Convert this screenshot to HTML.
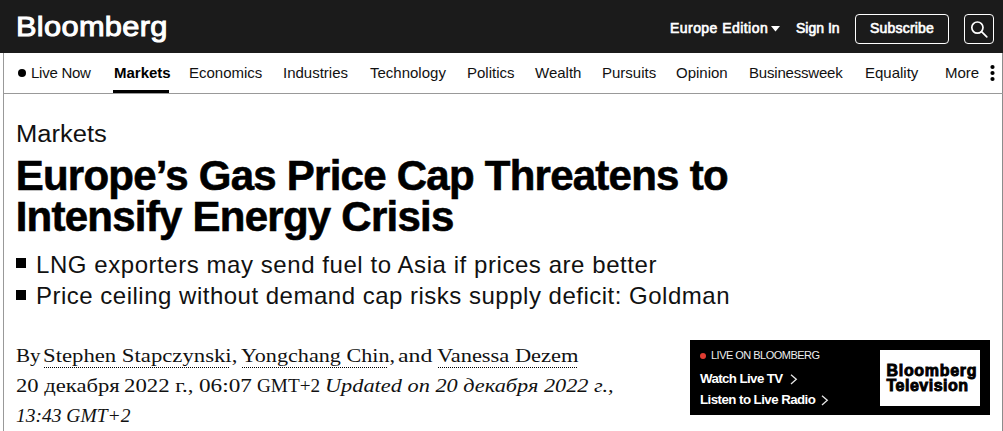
<!DOCTYPE html>
<html><head><meta charset="utf-8">
<style>
*{margin:0;padding:0;box-sizing:border-box}
html,body{width:1003px;height:431px;overflow:hidden;background:#fff;font-family:"Liberation Sans",sans-serif;color:#000}
.abs{position:absolute;white-space:nowrap}
#top{position:absolute;left:0;top:0;width:1003px;height:53px;background:#1b1b1b}
#logo{left:15.8px;top:5.7px;font-size:28.5px;line-height:40px;color:#fff;-webkit-text-stroke:1px #fff;letter-spacing:0.3px;transform:scaleX(1.08);transform-origin:0 0}
.tl{color:#fff;font-size:14px;line-height:20px;top:18px;-webkit-text-stroke:0.65px #fff}
#sub{position:absolute;left:855px;top:14px;width:94px;height:30px;border:1.5px solid #fff;border-radius:4px}
#srch{position:absolute;left:964px;top:14px;width:30px;height:30px;border:1.5px solid #fff;border-radius:4px}
#vl{position:absolute;left:3px;top:53px;width:1px;height:379px;background:#999}
#vr{position:absolute;left:1002px;top:53px;width:1px;height:378px;background:#8c8c8c}
#navb{position:absolute;left:3px;top:93px;width:1000px;height:1px;background:#999}
.nv{font-size:15px;line-height:20px;top:63px;color:#111}
#ul{position:absolute;left:113px;top:90px;width:56px;height:3px;background:#000}
.hl{font-size:42px;line-height:44px;font-weight:bold;-webkit-text-stroke:0.6px #000}
.bl{left:36px;font-size:24px;line-height:31px;color:#111}
.by{left:16px;font-family:"Liberation Serif",serif;font-size:19.5px;line-height:30px;color:#111;transform-origin:0 0}
.dl{top:367px;height:1px;background:repeating-linear-gradient(90deg,#000 0 1px,transparent 1px 2px)}
.lv{left:700px;font-size:13.3px;line-height:18px;color:#fff;font-weight:bold}
</style></head><body>
<div id="top"></div>
<div class="abs" id="logo">Bloomberg</div>
<div class="abs tl" style="left:670px;letter-spacing:0.45px">Europe Edition</div>
<svg class="abs" style="left:771px;top:26px" width="9" height="6"><path d="M0 0H9L4.5 5.5Z" fill="#fff"/></svg>
<div class="abs tl" style="left:796px">Sign In</div>
<div id="sub"></div>
<div class="abs tl" style="left:870px;letter-spacing:0.2px">Subscribe</div>
<div id="srch"></div>
<svg class="abs" style="left:964px;top:14px" width="30" height="30"><circle cx="13.4" cy="13.6" r="5.6" fill="none" stroke="#fff" stroke-width="1.7"/><path d="M17.5 17.7L22.8 22.8" stroke="#fff" stroke-width="1.7" stroke-linecap="round"/></svg>

<div id="vl"></div><div id="vr"></div><div id="navb"></div>
<svg class="abs" style="left:18px;top:69px" width="8" height="8"><circle cx="4" cy="4" r="4" fill="#000"/></svg>
<div class="abs nv" style="left:31px;letter-spacing:-0.25px">Live Now</div>
<div class="abs nv" style="left:114px;font-weight:bold;color:#000">Markets</div>
<div id="ul"></div>
<div class="abs nv" style="left:189px">Economics</div>
<div class="abs nv" style="left:283px">Industries</div>
<div class="abs nv" style="left:370px">Technology</div>
<div class="abs nv" style="left:467px">Politics</div>
<div class="abs nv" style="left:535px">Wealth</div>
<div class="abs nv" style="left:602px">Pursuits</div>
<div class="abs nv" style="left:676px">Opinion</div>
<div class="abs nv" style="left:749px;letter-spacing:-0.2px">Businessweek</div>
<div class="abs nv" style="left:865px">Equality</div>
<div class="abs nv" style="left:945px">More</div>
<svg class="abs" style="left:988.5px;top:64px" width="7" height="18"><circle cx="3.5" cy="3" r="2.1"/><circle cx="3.5" cy="9" r="2.1"/><circle cx="3.5" cy="15" r="2.1"/></svg>

<div class="abs" style="left:15.5px;top:119.5px;font-size:23px;line-height:28px;color:#111;transform:scaleX(1.11);transform-origin:0 0">Markets</div>
<div class="abs hl" style="left:15.7px;top:154px;letter-spacing:-0.75px">Europe’s Gas Price Cap Threatens to</div><div class="abs hl" style="left:15.7px;top:195px;letter-spacing:-0.75px">Intensify Energy Crisis</div>
<div class="abs" style="left:16px;top:258px;width:10px;height:10px;background:#000"></div>
<div class="abs" style="left:16px;top:289.5px;width:10px;height:10px;background:#000"></div>
<div class="abs bl" style="top:249px;letter-spacing:0.56px">LNG exporters may send fuel to Asia if prices are better</div>
<div class="abs bl" style="top:280px;letter-spacing:0.5px">Price ceiling without demand cap risks supply deficit: Goldman</div>

<div class="abs by" style="left:16px;top:341px;transform:scaleX(1.08)">By</div>
<div class="abs by" style="left:42.6px;top:341px;transform:scaleX(1.165)">Stephen Stapczynski,</div>
<div class="abs by" style="left:240.7px;top:341px;transform:scaleX(1.136)">Yongchang Chin,</div>
<div class="abs by" style="left:398.1px;top:341px;transform:scaleX(1.22)">and</div>
<div class="abs by" style="left:436.9px;top:341px;transform:scaleX(1.151)">Vanessa Dezem</div>
<div class="abs dl" style="left:44px;width:186px"></div>
<div class="abs dl" style="left:242px;width:146px"></div>
<div class="abs dl" style="left:438px;width:140px"></div>
<div class="abs by" style="left:16px;top:371px;transform:scaleX(1.159)">20 декабря</div>
<div class="abs by" style="left:123.5px;top:371px;transform:scaleX(1.17)">2022 г.,</div>
<div class="abs by" style="left:199px;top:371px;transform:scaleX(1.19)">06:07</div>
<div class="abs by" style="left:256.5px;top:371px;transform:scaleX(0.985)">GMT+2</div>
<div class="abs by" style="left:325px;top:371px;transform:scaleX(1.145)"><i>Updated on 20 декабря 2022 г.,</i></div>
<div class="abs by" style="top:401px;transform:scaleX(1.0)"><i>13:43 GMT+2</i></div>

<div class="abs" style="left:690px;top:340px;width:300px;height:75px;background:#000"></div>
<svg class="abs" style="left:700px;top:353px" width="6" height="6"><circle cx="3" cy="3" r="3" fill="#e03c31"/></svg>
<div class="abs" style="left:711px;top:346.5px;font-size:11px;line-height:16px;color:#eee;letter-spacing:-0.52px">LIVE ON BLOOMBERG</div>
<div class="abs lv" style="top:370px;letter-spacing:-0.6px">Watch Live TV</div>
<div class="abs lv" style="top:391px;letter-spacing:-0.55px">Listen to Live Radio</div>
<svg class="abs" style="left:790px;top:374px" width="8" height="11"><path d="M1 0.7L6.3 5.3L1 9.9" fill="none" stroke="#e6e6e6" stroke-width="1.3"/></svg>
<svg class="abs" style="left:821px;top:395px" width="8" height="11"><path d="M1 0.7L6.3 5.3L1 9.9" fill="none" stroke="#e6e6e6" stroke-width="1.3"/></svg>
<div class="abs" style="left:880px;top:350px;width:100px;height:56px;background:#fff"></div>
<div class="abs" style="left:886.5px;top:363px;font-size:16px;line-height:15px;font-weight:bold;-webkit-text-stroke:0.9px #000"><span style="letter-spacing:0.7px">Bloomberg</span><br><span style="letter-spacing:0.5px">Television</span></div>
</body></html>
